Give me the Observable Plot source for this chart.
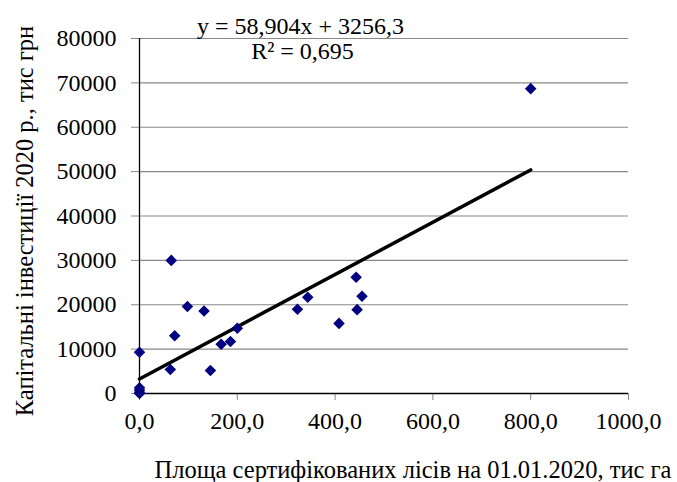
<!DOCTYPE html>
<html>
<head>
<meta charset="utf-8">
<script src="https://cdn.jsdelivr.net/npm/d3@7"></script>
<script src="https://cdn.jsdelivr.net/npm/@observablehq/plot@0.6"></script>
<style>
  html, body { margin: 0; padding: 0; background: #fff; }
  #chart { width: 677px; height: 482px; }
</style>
</head>
<body>
<div id="chart"></div>
<script>
// Площа сертифікованих лісів, тис га
const area = [800, 65, 98, 132, 72, 0, 63, 145, 167, 186, 200, 323, 344, 443, 455, 445, 408, 0, 0, 0, 0];
// Капітальні інвестиції 2020 р., тис грн
const invest = [68700, 30000, 19600, 18600, 13000, 9300, 5400, 5200, 11100, 11700, 14700, 19000, 21700, 26200, 21900, 18900, 15800, 1300, 800, 300, 0];
// trend line (from the chart's equation)
const slope = 58.904;
const intercept = 3256.3;
const equationLines = ["y = 58,904x + 3256,3", "R² = 0,695"];
const xTicks = [0, 200, 400, 600, 800, 1000];
const yTicks = [0, 10000, 20000, 30000, 40000, 50000, 60000, 70000, 80000];
const xLabel = "Площа сертифікованих лісів на 01.01.2020, тис га";
const yLabel = "Капітальні інвестиції 2020 р., тис грн";

const points = area.map((a, i) => ({x: a, y: invest[i]}));
const xMin = d3.min(area), xMax = d3.max(area);
const trend = [xMin, xMax].map(x => ({x, y: slope * x + intercept}));

const font = "'Liberation Serif', 'Times New Roman', serif";
const fmtX = d => d3.format(".1f")(d).replace(".", ",");

const chart = Plot.plot({
  width: 677,
  height: 482,
  marginLeft: 139,
  marginRight: 49,
  marginTop: 38,
  marginBottom: 89,
  style: {fontFamily: font, fontSize: "24px", color: "#000", background: "#fff", overflow: "visible"},
  x: {domain: [0, 1000]},
  y: {domain: [0, 80000]},
  marks: [
    Plot.gridY(yTicks, {stroke: "#888", strokeOpacity: 1, strokeWidth: 1.2}),
    Plot.axisY(yTicks, {tickSize: 8, tickPadding: 15, stroke: "#888", tickFormat: d => String(d), label: null, fontSize: 24}),
    Plot.axisX(xTicks, {tickSize: 7, tickPadding: 11, stroke: "#888", tickFormat: fmtX, label: null, fontSize: 24}),
    Plot.ruleX([0], {stroke: "#000", strokeWidth: 1.3}),
    Plot.ruleY([0], {stroke: "#000", strokeWidth: 1.3}),
    Plot.line(trend, {x: "x", y: "y", stroke: "#000", strokeWidth: 3.5}),
    Plot.dot(points, {x: "x", y: "y", symbol: "diamond2", r: 5.2, fill: "#000080", stroke: "none"}),
    Plot.text([equationLines[0]], {frameAnchor: "top-left", dx: 161, dy: -12, text: d => d, textAnchor: "middle", lineAnchor: "middle", fontSize: 24}),
    Plot.text([equationLines[1]], {frameAnchor: "top-left", dx: 163, dy: 13, text: d => d, textAnchor: "middle", lineAnchor: "middle", fontSize: 24}),
    Plot.text([xLabel], {frameAnchor: "bottom", dx: 29, dy: 77, text: d => d, textAnchor: "middle", lineAnchor: "middle", fontSize: 24.5}),
    Plot.text([yLabel], {frameAnchor: "left", dx: -114, dy: 5, rotate: -90, text: d => d, textAnchor: "middle", lineAnchor: "middle", fontSize: 24.5})
  ]
});
document.getElementById("chart").appendChild(chart);
</script>
</body>
</html>
